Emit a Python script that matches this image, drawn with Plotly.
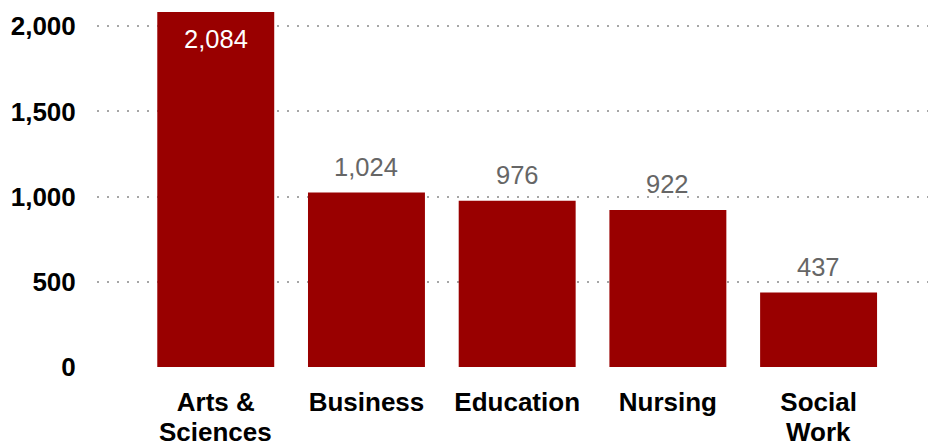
import plotly.graph_objects as go

categories = ["Arts & Sciences", "Business", "Education", "Nursing", "Social Work"]
label_lines = [["Arts &", "Sciences"], ["Business"], ["Education"], ["Nursing"], ["Social", "Work"]]
values = [2084, 1024, 976, 922, 437]
label_text = ["2,084", "1,024", "976", "922", "437"]
label_inside = [True, False, False, False, False]
y_tick_vals = [0, 500, 1000, 1500, 2000]

BAR = "#990000"
FONT = "Liberation Sans, Arial, sans-serif"
TICK_SIZE = 26
LABEL_SIZE = 25.5

xs = list(range(len(categories)))

fig = go.Figure(
    go.Bar(
        x=xs,
        y=values,
        marker=dict(color=BAR, line=dict(width=0)),
        hoverinfo="skip",
    )
)

annotations = []
for x, v, t, inside in zip(xs, values, label_text, label_inside):
    annotations.append(dict(
        x=x, y=v, xref="x", yref="y", text=t, showarrow=False,
        yanchor="top" if inside else "bottom",
        yshift=-11 if inside else 10,
        font=dict(family=FONT, size=LABEL_SIZE, color="white" if inside else "#666666"),
    ))
# second lines of the category labels
for x, lines in zip(xs, label_lines):
    for k, line in enumerate(lines[1:], start=1):
        annotations.append(dict(
            x=x, y=0, xref="x", yref="paper", text=f"<b>{line}</b>", showarrow=False,
            yanchor="top", yshift=-21 - 26.6 * k,
            font=dict(family=FONT, size=TICK_SIZE, color="black"),
        ))

fig.update_layout(
    width=936,
    height=444,
    margin=dict(l=89, r=16, t=4, b=85),
    paper_bgcolor="white",
    plot_bgcolor="white",
    bargap=0.224,
    showlegend=False,
    font=dict(family=FONT, color="black"),
    annotations=annotations,
)

fig.update_xaxes(
    range=[-0.788, 4.726],
    tickmode="array",
    tickvals=xs,
    ticktext=[f"<b>{lines[0]}</b>" for lines in label_lines],
    tickfont=dict(family=FONT, size=TICK_SIZE, color="black"),
    showgrid=False,
    zeroline=False,
    showline=False,
    ticks="outside",
    ticklen=12,
    tickcolor="rgba(0,0,0,0)",
    automargin=False,
)

fig.update_yaxes(
    range=[0, 2084],
    tickmode="array",
    tickvals=y_tick_vals,
    ticktext=[f"<b>{v:,}</b>" for v in y_tick_vals],
    tickfont=dict(family=FONT, size=TICK_SIZE, color="black"),
    showgrid=True,
    gridcolor="#a6a6a6",
    gridwidth=2,
    griddash="2px,8px",
    zeroline=False,
    showline=False,
    ticks="outside",
    ticklen=15,
    tickcolor="rgba(0,0,0,0)",
    automargin=False,
)

fig.write_html("out.html")
